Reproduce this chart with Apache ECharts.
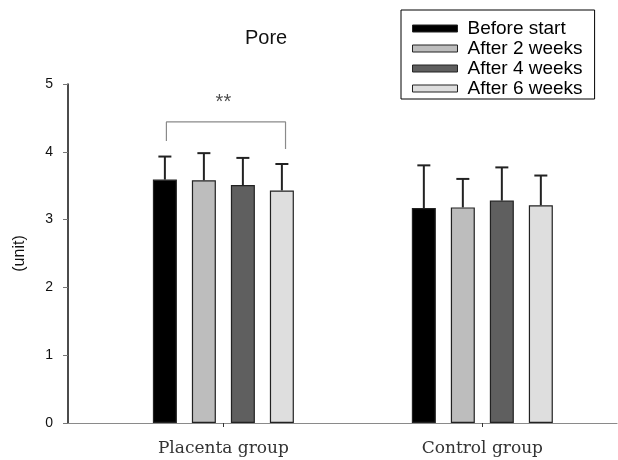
<!DOCTYPE html>
<html>
<head>
<meta charset="utf-8">
<script src="https://cdn.jsdelivr.net/npm/echarts@6/dist/echarts.min.js"></script>
<style>html,body{margin:0;padding:0;background:#fff}#c{width:618px;height:460px}</style>
</head>
<body>
<div id="c"></div>
<script>
// ---- data ----
const groups = ['Placenta group', 'Control group'];
const groupPos = [1, 2];
const seriesNames = ['Before start', 'After 2 weeks', 'After 4 weeks', 'After 6 weeks'];
const beforeStart = [3.59, 3.17];
const after2Weeks = [3.58, 3.18];
const after4Weeks = [3.51, 3.28];
const after6Weeks = [3.43, 3.21];
const sdBefore = [0.34, 0.63];
const sdAfter2 = [0.40, 0.42];
const sdAfter4 = [0.40, 0.49];
const sdAfter6 = [0.39, 0.44];
const yTicks = [0, 1, 2, 3, 4, 5];
const bracket = [[0.78, 4.16], [0.78, 4.44], [1.24, 4.44], [1.24, 4.04]];
const starMark = [[1.0, 4.72]];
const starText = '**';

// ---- styling ----
const colors = ['#000000', '#bdbdbd', '#5f5f5f', '#dedede'];
const barW = 24, gapRatio = 0.625;
const means = [beforeStart, after2Weeks, after4Weeks, after6Weeks];
const sds = [sdBefore, sdAfter2, sdAfter4, sdAfter6];
const FONT = 'Liberation Sans, Arial, sans-serif';

const series = [];
means.forEach((m, i) => {
  series.push({
    name: seriesNames[i], type: 'bar', barWidth: barW, barGap: (gapRatio * 100) + '%',
    itemStyle: { color: colors[i], borderColor: '#222', borderWidth: 1.2 },
    data: groupPos.map((x, k) => [x, m[k]]), z: 2
  });
});
means.forEach((m, i) => {
  const off = (i - (means.length - 1) / 2) * barW * (1 + gapRatio);
  series.push({
    type: 'custom', name: 'err' + i, z: 3,
    data: groupPos.map((x, k) => [x, m[k], m[k] + sds[i][k]]),
    renderItem: function (params, api) {
      const p0 = api.coord([api.value(0), api.value(1)]);
      const p1 = api.coord([api.value(0), api.value(2)]);
      const x = p0[0] + off;
      const st = { stroke: '#222', lineWidth: 2 };
      return { type: 'group', children: [
        { type: 'line', shape: { x1: x, y1: p0[1], x2: x, y2: p1[1] }, style: st },
        { type: 'line', shape: { x1: x - 6.5, y1: p1[1], x2: x + 6.5, y2: p1[1] }, style: st }
      ]};
    }
  });
});
series.push({
  type: 'line', name: 'bracket', data: bracket, symbol: 'none', silent: true,
  lineStyle: { color: '#8a8a8a', width: 1.2 }, z: 4
});
series.push({
  type: 'scatter', name: 'stars', data: starMark, symbolSize: 0, silent: true,
  label: { show: true, position: 'inside', formatter: starText, fontSize: 20, color: '#222', fontFamily: FONT }
});

const chart = echarts.init(document.getElementById('c'), null, { renderer: 'canvas' });
chart.setOption({
  animation: false,
  backgroundColor: '#fff',
  title: {
    text: 'Pore', left: 245, top: 28, padding: 0,
    textStyle: { fontFamily: FONT, fontSize: 20, fontWeight: 'normal', color: '#111' }
  },
  legend: {
    data: seriesNames, orient: 'vertical', left: 401, top: 10,
    padding: [9, 12, 1, 11], itemGap: 1, itemWidth: 45, itemHeight: 7,
    borderColor: '#000', borderWidth: 1, icon: 'rect',
    textStyle: { fontFamily: FONT, fontSize: 19, color: '#000', padding: [0, 0, 0, 5] },
    itemStyle: { borderColor: '#222', borderWidth: 1 }
  },
  grid: { left: 68, right: 1, top: 84, bottom: 37, containLabel: false, outerBoundsMode: 'none' },
  xAxis: {
    type: 'value', min: 0.4, max: 2.52,
    axisLine: { show: true, lineStyle: { color: '#8a8a8a', width: 1.2 } },
    axisTick: { show: true, customValues: groupPos, length: 4, lineStyle: { color: '#333' } },
    axisLabel: {
      customValues: groupPos, margin: 17,
      formatter: v => groups[groupPos.indexOf(Math.round(v))] || '',
      fontFamily: 'DejaVu Serif, serif', fontSize: 17, color: '#333'
    },
    splitLine: { show: false }
  },
  yAxis: {
    type: 'value', min: yTicks[0], max: yTicks[yTicks.length - 1], interval: 1,
    name: '(unit)', nameLocation: 'middle', nameGap: 40, nameRotate: 90,
    nameTextStyle: { fontFamily: FONT, fontSize: 16, color: '#111' },
    axisLine: { show: true, lineStyle: { color: '#111', width: 1.5 } },
    axisTick: { show: true, length: 5, lineStyle: { color: '#777' } },
    axisLabel: { margin: 15, fontFamily: FONT, fontSize: 14, color: '#111' },
    splitLine: { show: false }
  },
  series: series
});
</script>
</body>
</html>
